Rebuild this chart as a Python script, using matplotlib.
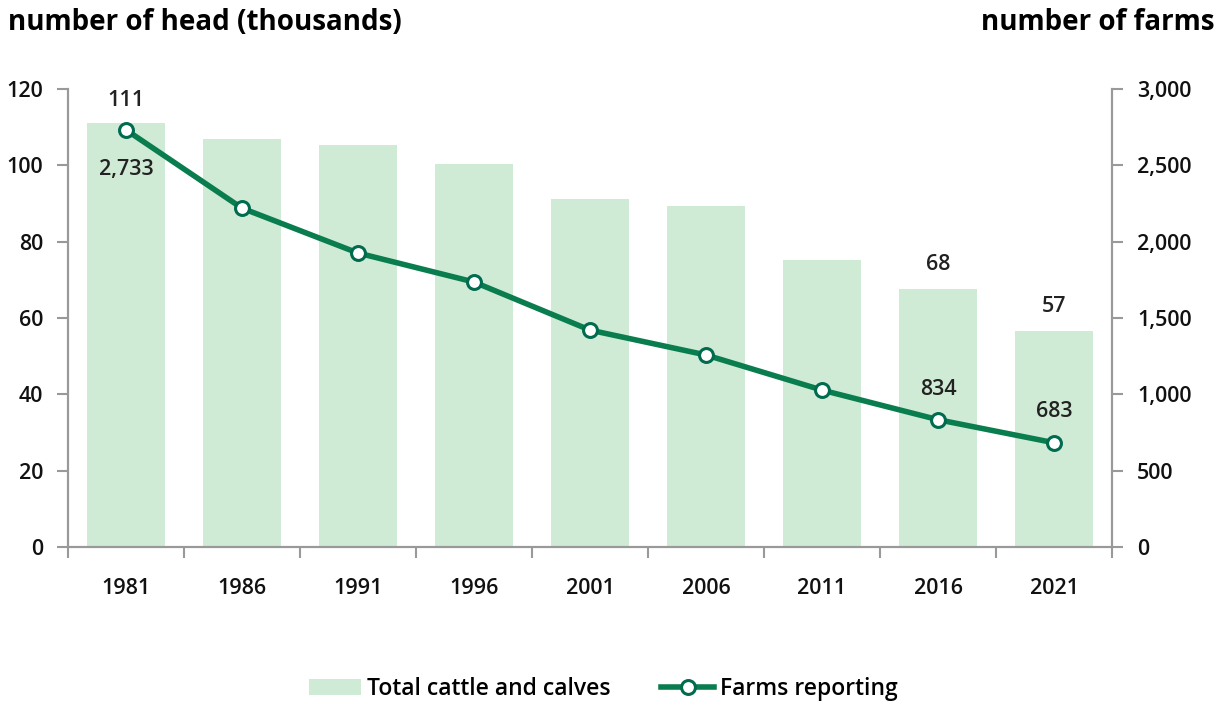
import matplotlib.pyplot as plt
import numpy as np

plt.rcParams['font.family'] = ['Open Sans', 'DejaVu Sans']

years = ['1981', '1986', '1991', '1996', '2001', '2006', '2011', '2016', '2021']
cattle = [111, 107, 105.3, 100.3, 91.2, 89.3, 75.2, 67.6, 56.6]
farms = [2733, 2220, 1926, 1736, 1421, 1258, 1028, 834, 683]

bar_color = '#d0ebd5'
line_color = '#0a7d4f'
grey = '#999999'

fig = plt.figure(figsize=(12.22, 7.07), dpi=100)
ax = fig.add_axes([0.0556, 0.2263, 0.8544, 0.6477])
ax2 = ax.twinx()

x = np.arange(len(years))
ax.bar(x, cattle, width=0.67, color=bar_color, label='Total cattle and calves', zorder=1)
ax2.plot(x, farms, color=line_color, lw=4, marker='o', ms=10, mfc='white',
         mec='#006b4f', mew=2.2, label='Farms reporting', zorder=3)

ax.set_xlim(-0.5, len(years) - 0.5)
ax.set_ylim(0, 120)
ax2.set_ylim(0, 3000)
ax.set_yticks(range(0, 121, 20))
ax2.set_yticks(range(0, 3001, 500))
ax2.set_yticklabels([f'{v:,}' for v in range(0, 3001, 500)])
ax.set_xticks(x)
ax.set_xticklabels(years)
ax.set_xticks(np.arange(-0.5, len(years)), minor=True)
ax.tick_params(axis='x', which='major', length=0, pad=22)
ax.tick_params(axis='x', which='minor', length=8, color=grey, width=1.5)

for a in (ax, ax2):
    a.spines['top'].set_visible(False)
    for s in ('left', 'right', 'bottom'):
        a.spines[s].set_color(grey)
        a.spines[s].set_linewidth(1.5)
    a.tick_params(axis='y', length=8, color=grey, width=1.5, labelsize=15.5, pad=10)
    a.tick_params(axis='x', labelsize=15.5)
for lab in ax.get_xticklabels() + ax.get_yticklabels() + ax2.get_yticklabels():
    lab.set_fontweight('semibold')
    lab.set_color('#111111')

# data labels
lab_kw = dict(ha='center', va='center', fontsize=15.5, fontweight='semibold', color='#222222')
ax.text(0, 117, '111', **lab_kw)
ax.text(7, 74, '68', **lab_kw)
ax.text(8, 63, '57', **lab_kw)
ax2.text(0, 2470, '2,733', **lab_kw)
ax2.text(7, 1035, '834', **lab_kw)
ax2.text(8, 890, '683', **lab_kw)

fig.text(0.0065, 0.968, 'number of head (thousands)', fontsize=20, fontweight='bold',
         ha='left', va='center')
fig.text(0.994, 0.968, 'number of farms', fontsize=20, fontweight='bold',
         ha='right', va='center')

h1, l1 = ax.get_legend_handles_labels()
h2, l2 = ax2.get_legend_handles_labels()
fig.legend(h1 + h2, l1 + l2, loc='center', bbox_to_anchor=(0.4935, 0.025), ncol=2,
           frameon=False, prop={'size': 16.5, 'weight': 'semibold'},
           handlelength=2.3, handletextpad=0.25, columnspacing=2.2)

fig.savefig('out.png', dpi=100)
